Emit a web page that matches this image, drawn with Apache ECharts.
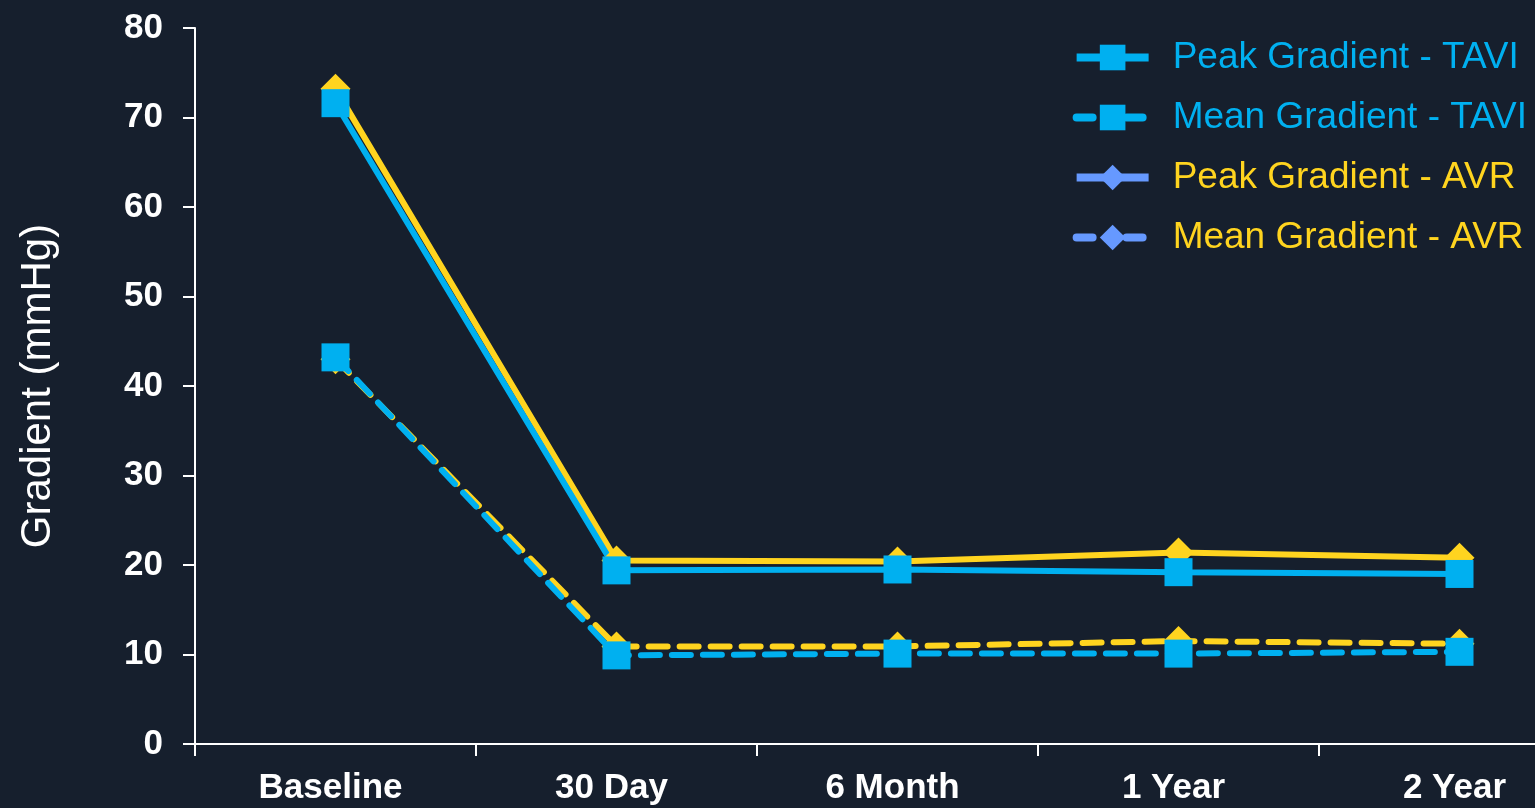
<!DOCTYPE html>
<html>
<head>
<meta charset="utf-8">
<script src="https://cdn.jsdelivr.net/npm/echarts@6/dist/echarts.min.js"></script>
<style>
html,body{margin:0;padding:0;background:#161f2d;}
#chart{width:1535px;height:808px;}
</style>
</head>
<body>
<div id="chart"></div>
<script>
const categories = ['Baseline', '30 Day', '6 Month', '1 Year', '2 Year'];
const peakTAVI = [71.6, 19.4, 19.5, 19.2, 19.0];
const meanTAVI = [43.2, 9.9, 10.1, 10.1, 10.3];
const peakAVR = [73.2, 20.5, 20.4, 21.4, 20.8];
const meanAVR = [43.0, 10.9, 10.9, 11.5, 11.2];
const yTicks = [0, 10, 20, 30, 40, 50, 60, 70, 80];

const BLUE = '#00b0f0';
const YELLOW = '#ffd41f';
const LEGEND_AVR = '#6699ff';
const FONT = "'Liberation Sans', Arial, sans-serif";

const chart = echarts.init(document.getElementById('chart'));
chart.setOption({
  backgroundColor: '#161f2d',
  animation: false,
  grid: { left: 195, top: 28, bottom: 64, right: -65, outerBoundsMode: 'none', containLabel: false },
  legend: {
    right: 3, top: 34, orient: 'vertical', itemWidth: 72, itemHeight: 32, itemGap: 23,
    textStyle: { fontFamily: FONT, fontSize: 37, padding: [0, 0, 0, 19] },
    data: [
      { name: 'Peak Gradient - TAVI', textStyle: { color: BLUE }, lineStyle: { width: 8 } },
      { name: 'Mean Gradient - TAVI', textStyle: { color: BLUE }, lineStyle: { width: 8, type: [16, 34], cap: 'round' } },
      { name: 'Peak Gradient - AVR', textStyle: { color: YELLOW }, itemStyle: { color: LEGEND_AVR }, lineStyle: { color: LEGEND_AVR, width: 8 } },
      { name: 'Mean Gradient - AVR', textStyle: { color: YELLOW }, itemStyle: { color: LEGEND_AVR }, lineStyle: { color: LEGEND_AVR, width: 8, type: [16, 34], cap: 'round' } }
    ]
  },
  xAxis: {
    type: 'category', data: categories, boundaryGap: true,
    axisLine: { lineStyle: { color: '#ffffff', width: 2 } },
    axisTick: { show: true, length: 12, lineStyle: { color: '#ffffff', width: 2 } },
    axisLabel: { color: '#ffffff', fontFamily: FONT, fontWeight: 'bold', fontSize: 35, margin: 27, padding: [0, 10, 0, 0] },
    splitLine: { show: false }
  },
  yAxis: {
    type: 'value', min: yTicks[0], max: yTicks[yTicks.length - 1], interval: 10,
    name: 'Gradient (mmHg)', nameLocation: 'middle', nameGap: 136, nameRotate: 90,
    nameTextStyle: { color: '#ffffff', fontFamily: FONT, fontSize: 42 },
    axisLine: { show: true, lineStyle: { color: '#ffffff', width: 2 } },
    axisTick: { show: true, length: 12, lineStyle: { color: '#ffffff', width: 2 } },
    axisLabel: { color: '#ffffff', fontFamily: FONT, fontWeight: 'bold', fontSize: 35, margin: 32 },
    splitLine: { show: false }
  },
  series: [
    { name: 'Mean Gradient - AVR', type: 'line', data: meanAVR, symbol: 'diamond', symbolSize: [30, 30], showAllSymbol: true,
      itemStyle: { color: YELLOW }, lineStyle: { color: YELLOW, width: 6, type: [19, 12], cap: 'round' } },
    { name: 'Peak Gradient - AVR', type: 'line', data: peakAVR, symbol: 'diamond', symbolSize: [30, 30],
      itemStyle: { color: YELLOW }, lineStyle: { color: YELLOW, width: 6 } },
    { name: 'Mean Gradient - TAVI', type: 'line', data: meanTAVI, symbol: 'rect', symbolSize: 28,
      itemStyle: { color: BLUE }, lineStyle: { color: BLUE, width: 6, type: [19, 12], cap: 'round' } },
    { name: 'Peak Gradient - TAVI', type: 'line', data: peakTAVI, symbol: 'rect', symbolSize: 28,
      itemStyle: { color: BLUE }, lineStyle: { color: BLUE, width: 6 } }
  ]
});
</script>
</body>
</html>
